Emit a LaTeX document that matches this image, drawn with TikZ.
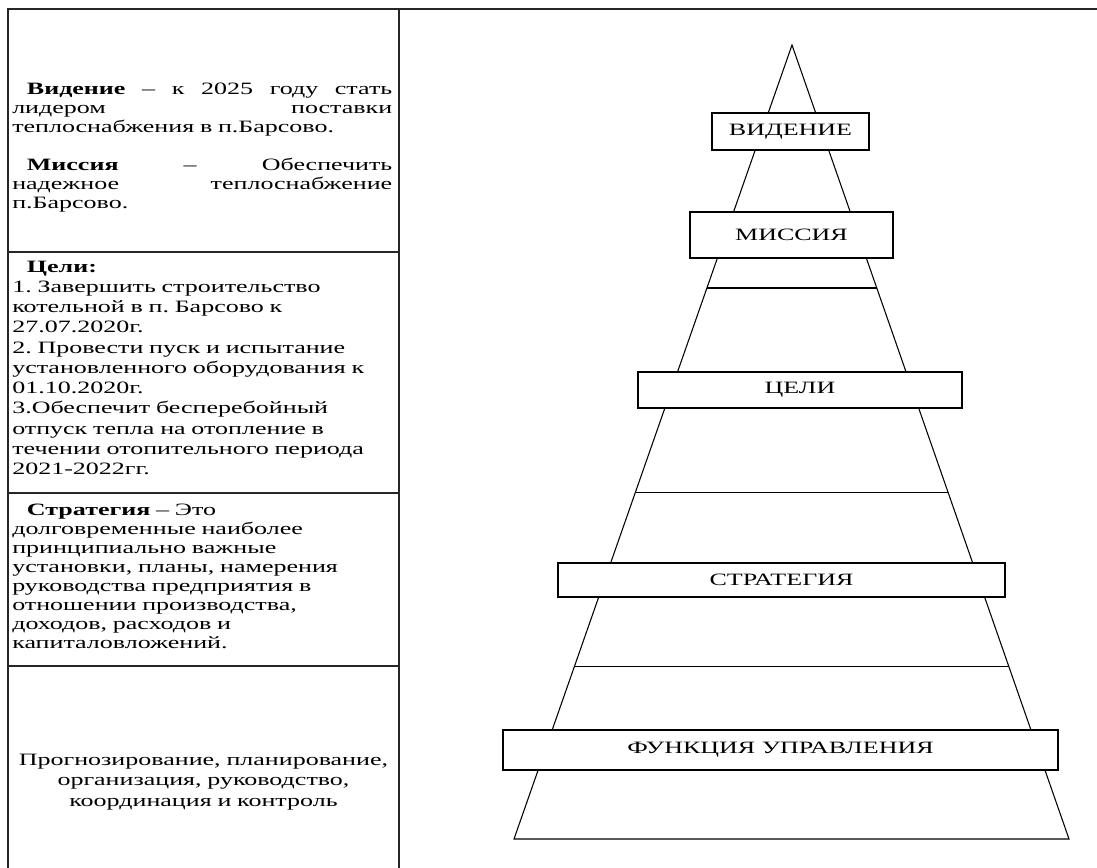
\documentclass[tikz,border=0pt]{standalone}
\usepackage{fontspec}
\setmainfont{Liberation Serif}[FakeStretch=1.5]
\usetikzlibrary{calc}
\newcommand{\sline}[1]{\makebox[\hsize][s]{\spaceskip=0pt\xspaceskip=0pt\relax#1}}
\frenchspacing

\begin{document}
\begin{tikzpicture}[x=0.75pt,y=-0.75pt,
		rule/.style={line width=1.2pt,draw=black!85},
		edge/.style={line width=0.8pt},
		tier/.style={draw,fill=white,line width=0.9pt,inner sep=0pt,font=\fontsize{13pt}{15pt}\selectfont},
		cell/.style={anchor=base west,inner sep=0pt,text width=380*0.75pt,align=left}]
		\useasboundingbox (0,0) rectangle (1097,868);
		% table on the left
		\draw[rule] (8,868) -- (8,9) -- (1097,9);
		\draw[rule] (399,9) -- (399,868);
		\foreach \y in {252,493,666}{
				\draw[rule] (8,\y) -- (399,\y);
			}
		\node[cell,font=\fontsize{13pt}{14.25pt}\selectfont] (vistext) at (12,94) {%
			\sline{\hspace*{11pt}\textbf{Видение} – к 2025 году стать}\\
			\sline{лидером поставки}\\
			теплоснабжения в п.Барсово.\\[14.25pt]
			\sline{\hspace*{11pt}\textbf{Миссия} – Обеспечить}\\
			\sline{надежное теплоснабжение}\\
			п.Барсово.};
		\node[cell,font=\fontsize{13pt}{15.2pt}\selectfont] (goaltext) at (12,272) {%
			\hspace*{11pt}\textbf{Цели:}\\
			1. Завершить строительство\\
			котельной в п. Барсово к\\
			27.07.2020г.\\
			2. Провести пуск и испытание\\
			установленного оборудования к\\
			01.10.2020г.\\
			3.Обеспечит бесперебойный\\
			отпуск тепла на отопление в\\
			течении отопительного периода\\
			2021-2022гг.};
		\node[cell,font=\fontsize{13pt}{14.25pt}\selectfont] (strattext) at (12,515) {%
			\hspace*{11pt}\textbf{Стратегия} – Это\\
			долговременные наиболее\\
			принципиально важные\\
			установки, планы, намерения\\
			руководства предприятия в\\
			отношении производства,\\
			доходов, расходов и\\
			капиталовложений.};
		\node[cell,anchor=base,align=center,font=\fontsize{13pt}{15.4pt}\selectfont] (functext) at (203.5,765) {%
			Прогнозирование, планирование,\\
			организация, руководство,\\
			координация и контроль};
		% pyramid
		\coordinate (apex) at (792,45);
		\coordinate (bl) at (514,839);
		\coordinate (br) at (1069,839);
		\draw[edge] (apex) -- (bl) -- (br) -- cycle;
		\foreach \t in {0.306,0.564,0.783}{
				\draw[edge] ($(apex)!\t!(bl)$) -- ($(apex)!\t!(br)$);
			}
		\node[tier,minimum width=157*0.75pt,minimum height=37*0.75pt] (vision) at (790.5,131.5) {ВИДЕНИЕ};
		\node[tier,minimum width=203*0.75pt,minimum height=46*0.75pt] (mission) at (791.5,235) {МИССИЯ};
		\node[tier,minimum width=324*0.75pt,minimum height=36*0.75pt] (goals) at (800,390) {ЦЕЛИ};
		\node[tier,minimum width=447*0.75pt,minimum height=34*0.75pt] (strategy) at (781.5,580) {СТРАТЕГИЯ};
		\node[tier,minimum width=555*0.75pt,minimum height=40*0.75pt] (functions) at (780.5,750) {ФУНКЦИЯ УПРАВЛЕНИЯ};
	\end{tikzpicture}
\end{document}
